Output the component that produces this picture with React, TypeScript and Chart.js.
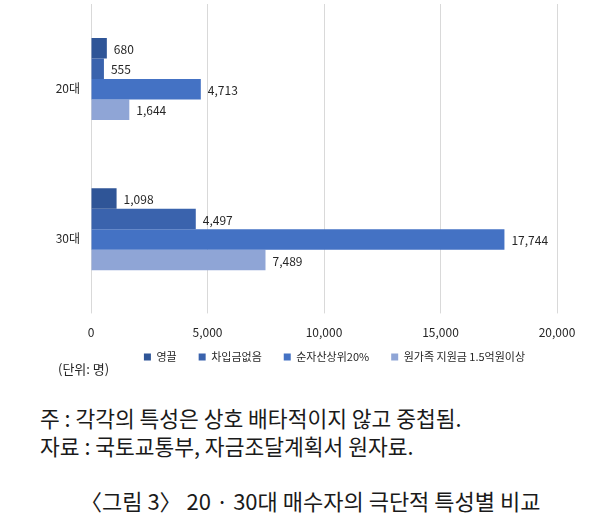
import React, { useEffect, useRef } from 'react';
import { Chart, registerables } from 'chart.js';

Chart.register(...registerables);

const categories = ['20대', '30대'];
const seriesNames = ['영끌', '차입금없음', '순자산상위20%', '원가족 지원금 1.5억원이상'];
const youngFull = [680, 1098];
const noBorrowing = [555, 4497];
const topNetAsset = [4713, 17744];
const familySupport = [1644, 7489];
const xTicks = [0, 5000, 10000, 15000, 20000];
const seriesColors = ['#2F5597', '#3A63AD', '#4472C4', '#8FA5D6'];

const NUM_FONT = "'Noto Sans CJK KR', 'Noto Sans', sans-serif";
const KR_FONT = "'Noto Sans CJK KR', 'Noto Sans', sans-serif";
const TEXT_COLOR = '#262626';

const valueLabels = {
  id: 'valueLabels',
  afterDatasetsDraw(chart: any) {
    const ctx = chart.ctx;
    ctx.save();
    ctx.font = `12px ${NUM_FONT}`;
    ctx.fillStyle = TEXT_COLOR;
    ctx.textBaseline = 'middle';
    ctx.textAlign = 'left';
    chart.data.datasets.forEach((ds: any, i: number) => {
      const meta = chart.getDatasetMeta(i);
      meta.data.forEach((el: any, j: number) => {
        const v = Number(ds.data[j]);
        ctx.fillText(v.toLocaleString('en-US'), el.x + 7, el.y + 1);
      });
    });
    ctx.restore();
  },
};

const legendShift = {
  id: 'legendShift',
  afterLayout(chart: any) {
    const l = chart.legend;
    if (l) {
      l.left += 56;
      l.right += 56;
      l.top -= 11.9;
      l.bottom -= 11.9;
    }
  },
};

export default function App() {
  const ref = useRef<HTMLCanvasElement | null>(null);

  useEffect(() => {
    if (!ref.current) return;
    const values = [youngFull, noBorrowing, topNetAsset, familySupport];
    const chart = new Chart(ref.current, {
      type: 'bar',
      data: {
        labels: categories,
        datasets: seriesNames.map((name, i) => ({
          label: name,
          data: values[i],
          backgroundColor: seriesColors[i],
          borderWidth: 0,
          barPercentage: 1,
          categoryPercentage: 0.546,
        })),
      },
      options: {
        indexAxis: 'y',
        responsive: false,
        animation: false,
        devicePixelRatio: 1,
        layout: { padding: { top: 4, right: 46, bottom: 8.6, left: 0 } },
        scales: {
          x: {
            min: 0,
            max: 20000,
            afterBuildTicks: (s: any) => {
              s.ticks = xTicks.map((v) => ({ value: v }));
            },
            grid: { color: '#D9D9D9', lineWidth: 1, tickLength: 9, drawTicks: true },
            border: { display: false },
            ticks: {
              font: { size: 12, family: NUM_FONT },
              color: TEXT_COLOR,
              padding: 12,
              maxRotation: 0,
              callback: (v: any) => Number(v).toLocaleString('en-US'),
            },
            afterFit: (s: any) => {
              s.height = 37;
            },
          },
          y: {
            grid: { display: false, drawTicks: false },
            border: { display: false },
            ticks: {
              font: { size: 12, family: NUM_FONT },
              color: TEXT_COLOR,
              padding: 11,
              labelOffset: 9,
            },
            afterFit: (s: any) => {
              s.width = 91;
              s.paddingTop = 0;
              s.paddingBottom = 0;
            },
          },
        },
        plugins: {
          legend: {
            position: 'bottom',
            labels: {
              boxWidth: 7,
              boxHeight: 7,
              padding: 22,
              color: TEXT_COLOR,
              font: { size: 11, family: NUM_FONT },
            },
          },
          tooltip: { enabled: false },
        },
      },
      plugins: [valueLabels, legendShift],
    } as any);
    return () => chart.destroy();
  }, []);

  return (
    <div
      style={{
        position: 'absolute',
        left: 0,
        top: 0,
        width: 603,
        height: 530,
        background: '#ffffff',
        overflow: 'hidden',
      }}
    >
      <canvas
        ref={ref}
        width={603}
        height={393}
        style={{ position: 'absolute', left: 0, top: 0, width: 603, height: 393 }}
      />
      <div
        style={{
          position: 'absolute',
          left: 58,
          top: 360,
          fontFamily: KR_FONT,
          fontSize: 13,
          lineHeight: '17px',
          color: TEXT_COLOR,
          whiteSpace: 'nowrap',
        }}
      >
        (단위: 명)
      </div>
      <div
        style={{
          position: 'absolute',
          left: 40,
          top: 404,
          fontFamily: KR_FONT,
          fontSize: 21.5,
          lineHeight: '28px',
          color: '#1a1a1a',
          whiteSpace: 'nowrap',
        }}
      >
        <div>주 : 각각의 특성은 상호 배타적이지 않고 중첩됨.</div>
        <div>자료 : 국토교통부, 자금조달계획서 원자료.</div>
      </div>
      <div
        style={{
          position: 'absolute',
          left: 80,
          top: 486,
          fontFamily: KR_FONT,
          fontSize: 22,
          lineHeight: '28px',
          color: '#1a1a1a',
          whiteSpace: 'nowrap',
        }}
      >
        〈그림 3〉 20 · 30대 매수자의 극단적 특성별 비교
      </div>
    </div>
  );
}
